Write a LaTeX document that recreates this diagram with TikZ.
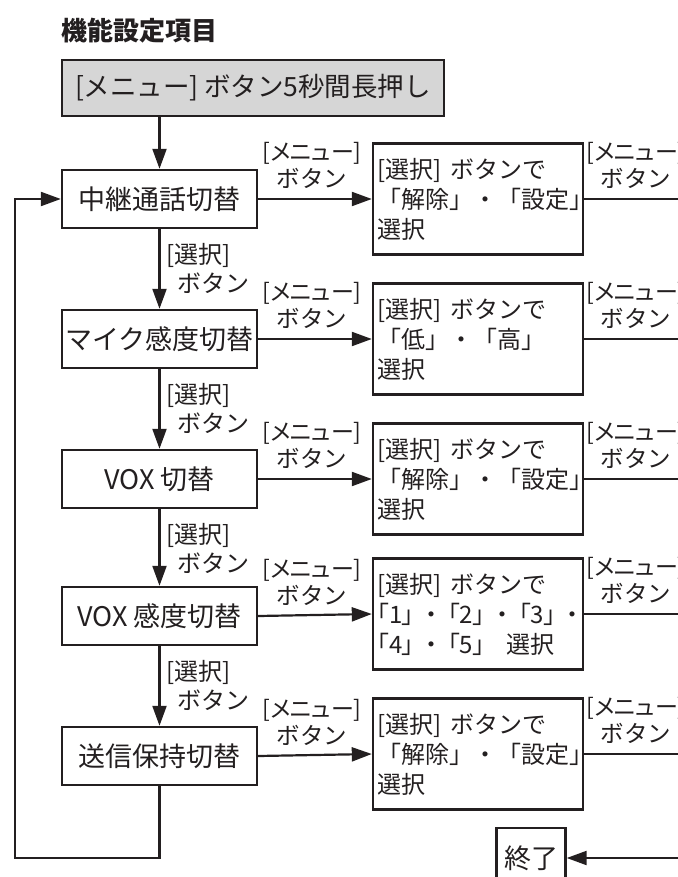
\documentclass[tikz,border=0pt]{standalone}
\usepackage{fontspec}
\setmainfont{Noto Sans CJK JP}
\newfontfamily\jpp{Noto Sans CJK JP}[RawFeature=+palt]
\usetikzlibrary{arrows.meta}
\definecolor{ink}{HTML}{231F20}
\definecolor{boxgray}{HTML}{D6D6D6}
\newcommand\dotsep{\hspace{0.45em}・\hspace{0.45em}}
\newcommand\menulbl{{\jpp\fontsize{23}{27}\selectfont [メニュー]}\\ボタン}
\tikzset{
  lbox/.style={draw=ink, line width=2.4pt, minimum width=195pt, minimum height=58pt, inner sep=0pt, font=\fontsize{27}{30}\selectfont, text=ink},
  rbox/.style={draw=ink, line width=2.4pt, minimum width=210pt, minimum height=111pt, inner xsep=4pt, text width=202pt, align=left, font=\fontsize{24}{30}\selectfont, text=ink},
  elabel/.style={align=center, font=\fontsize{23.5}{27}\selectfont, text=ink, inner sep=0pt},
  vlabel/.style={align=left, font=\fontsize{24}{29}\selectfont, text=ink, inner sep=0pt, anchor=north west},
  arr/.style={draw=ink, line width=2.2pt, -{Triangle[length=20pt, width=14pt]}},
  plain/.style={draw=ink, line width=2.2pt}
}
\begin{document}
\begin{tikzpicture}[x=1pt, y=-1pt]
\useasboundingbox (0,0) rectangle (677,877);
\node[anchor=west, font=\bfseries\fontsize{26}{28}\selectfont, text=ink, inner sep=0pt] (title) at (61,31) {機能設定項目};
\node[draw=ink, fill=boxgray, line width=2.8pt, minimum width=382pt, minimum height=56pt, inner sep=0pt, font=\fontsize{26.5}{30}\selectfont, text=ink] (top) at (253,88) {[メニュー]\hspace{0.2em}ボタン5秒間長押し};

\node[lbox] (b1) at (159.5,199) {中継通話切替};
\node[lbox] (b2) at (159.5,339) {マイク感度切替};
\node[lbox] (b3) at (159.5,479) {VOX 切替};
\node[lbox] (b4) at (159.5,616) {VOX 感度切替};
\node[lbox] (b5) at (159.5,756) {送信保持切替};

\node[rbox] (r1) at (478,199) {[選択]\hspace{0.4em}ボタンで\\「解除」・「設定」\\選択};
\node[rbox] (r2) at (478,339) {[選択]\hspace{0.4em}ボタンで\\「低」・「高」\\選択};
\node[rbox] (r3) at (478,479) {[選択]\hspace{0.4em}ボタンで\\「解除」・「設定」\\選択};
\node[rbox] (r4) at (478,614) {[選択]\hspace{0.4em}ボタンで\\{\jpp「1」\dotsep「2」\dotsep「3」\dotsep}\\{\jpp「4」\dotsep「5」\hspace{0.9em}選択}};
\node[rbox] (r5) at (478,754) {[選択]\hspace{0.4em}ボタンで\\「解除」・「設定」\\選択};

\node[draw=ink, line width=2.4pt, minimum width=69pt, minimum height=60pt, inner sep=0pt, font=\fontsize{27}{30}\selectfont, text=ink] (end) at (531,858) {終了};

% top arrow
\draw[arr] (top.south -| b1.north) -- (b1.north);

% vertical arrows with labels
\foreach \a/\b in {b1/b2, b2/b3, b3/b4, b4/b5}{
  \draw[arr] (\a.south) -- (\b.north);
  \node[vlabel] (l\a) at ([xshift=7pt, yshift=-14pt]\a.south) {[選択]\\\hspace{0.45em}ボタン};
}

% horizontal arrows with labels
\foreach \i in {1,...,5}{
  \draw[arr] (b\i.east) -- (r\i.west);
  \node[elabel, anchor=south] (m\i) at ([xshift=54pt, yshift=10pt]b\i.east) {\menulbl};
  \coordinate (e\i) at ([xshift=100pt]r\i.east);
  \draw[plain] (r\i.east) -- (e\i);
  \node[elabel, anchor=south] (n\i) at ([xshift=52pt, yshift=10pt]r\i.east) {\menulbl};
}

% end arrow
\coordinate (eend) at (690,858);
\draw[arr] (eend) -- (end.east);

% loop back
\coordinate (lp) at (15,858);
\draw[arr] (b5.south) |- (lp) |- (b1.west);
\end{tikzpicture}
\end{document}
